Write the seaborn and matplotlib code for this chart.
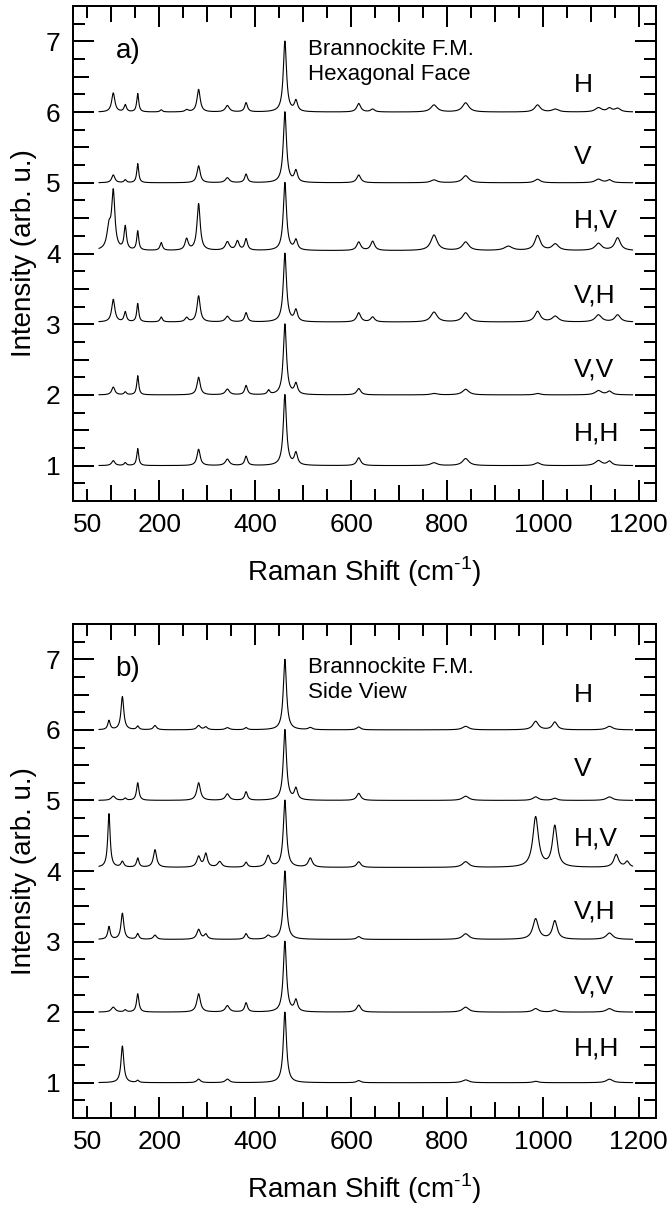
import numpy as np
import pandas as pd
import matplotlib
matplotlib.use("Agg")
import matplotlib.pyplot as plt
import seaborn as sns
from matplotlib.ticker import MultipleLocator, FixedLocator, FuncFormatter

# ---------------- data ----------------
POL_LABELS = ["H", "V", "H,V", "V,H", "V,V", "H,H"]
OFFSETS = [6, 5, 4, 3, 2, 1]
LABEL_Y_A = [6.39, 5.37, 4.46, 3.40, 2.36, 1.46]
LABEL_Y_B = [6.50, 5.45, 4.46, 3.43, 2.36, 1.48]

# Panel a) Hexagonal face: peak positions (cm-1), half widths, amplitudes per polarisation
A_POS = [95, 104, 129, 155, 204, 257, 282, 342, 363, 381, 428, 462, 485, 616, 645, 773, 839, 928, 989, 1026, 1116, 1139, 1156]
A_HWHM = [5, 4, 3, 2.5, 3, 4, 4, 5, 4, 3.5, 3, 4, 4, 5, 5, 8, 8, 10, 7, 8, 8, 6, 7]
A_H = [0, .27, .10, .26, .03, .03, .32, .09, 0, .13, 0, 1.0, .15, .12, .04, .10, .13, 0, .10, .04, .06, .05, .05]
A_V = [0, .11, .04, .27, 0, 0, .24, .07, 0, .12, 0, 1.0, .16, .11, 0, .04, .10, 0, .05, 0, .05, .04, 0]
A_HV = [.30, .80, .33, .27, .11, .16, .66, .12, .13, .16, 0, .96, .14, .12, .13, .22, .12, .06, .21, .09, .10, 0, .18]
A_VH = [0, .32, .14, .26, .07, .06, .37, .08, 0, .13, 0, .97, .16, .13, .07, .14, .13, 0, .15, .08, .10, 0, .10]
A_VV = [0, .11, .04, .27, 0, 0, .25, .08, 0, .13, .06, 1.0, .15, .09, 0, .02, .08, 0, .02, 0, .06, .05, 0]
A_HH = [0, .07, .04, .24, 0, 0, .23, .09, 0, .13, 0, 1.0, .17, .11, 0, .04, .10, 0, .04, 0, .07, .06, 0]
A_BASE = [0.0, 0.0, 0.04, 0.03, 0.0, 0.0]

# Panel b) Side view
B_POS = [95, 104, 123, 129, 155, 191, 282, 297, 326, 342, 381, 427, 462, 485, 515, 616, 839, 985, 1025, 1139, 1153, 1176]
B_HWHM = [3, 5, 3.5, 3, 3, 4, 4.5, 4, 5, 5, 3.5, 5, 4, 4, 5, 5, 8, 7, 6, 8, 6, 5]
B_H = [.13, 0, .47, 0, .05, .06, .06, .04, 0, .03, .03, 0, 1.0, 0, .03, .04, .05, .12, .11, .05, 0, 0]
B_V = [0, .06, 0, .03, .25, 0, .25, 0, 0, .09, .12, 0, 1.0, .16, 0, .10, .06, .05, .03, .05, 0, 0]
B_HV = [.76, 0, .08, 0, .13, .25, .15, .19, .08, 0, .07, .16, .95, 0, .13, .08, .08, .71, .58, 0, .18, .08]
B_VH = [.18, 0, .37, 0, .08, .06, .14, .07, 0, 0, .08, .05, .97, 0, 0, .04, .08, .29, .26, .09, 0, 0]
B_VV = [0, .07, 0, .03, .26, 0, .26, 0, 0, .09, .13, 0, 1.0, .16, 0, .10, .07, .05, .03, .05, 0, 0]
B_HH = [0, 0, .52, 0, .03, 0, .05, 0, 0, .05, 0, 0, 1.0, 0, 0, .03, .04, .02, 0, .05, 0, 0]
B_BASE = [0.0, 0.0, 0.05, 0.03, 0.0, 0.0]

X_START, X_END = 74, 1188
X_TICKS = [200, 400, 600, 800, 1000, 1200]

# ---------------- figure ----------------
sns.set_style("ticks")
plt.rcParams["font.family"] = ["Liberation Sans", "DejaVu Sans"]
plt.rcParams["mathtext.fontset"] = "custom"
plt.rcParams["mathtext.rm"] = "Liberation Sans"
for k in ("text.color", "axes.labelcolor", "xtick.color", "ytick.color", "axes.edgecolor"):
    plt.rcParams[k] = "black"

fig = plt.figure(figsize=(6.71, 12.11), dpi=100)
axa = fig.add_axes([0.1088, 0.5863, 0.8688, 0.4087])
axb = fig.add_axes([0.1088, 0.0768, 0.8688, 0.4079])

shift = np.arange(X_START, X_END, 0.5)


def build(pos, hwhm, amps_list, bases):
    frames = []
    for lab, off, amps, base in zip(POL_LABELS, OFFSETS, amps_list, bases):
        y = np.full_like(shift, off + base, dtype=float)
        for c, w, a in zip(pos, hwhm, amps):
            if a:
                y += a / (1 + ((shift - c) / w) ** 2)
        frames.append(pd.DataFrame({"shift": shift, "intensity": y, "pol": lab}))
    return pd.concat(frames, ignore_index=True)


df_a = build(A_POS, A_HWHM, [A_H, A_V, A_HV, A_VH, A_VV, A_HH], A_BASE)
df_b = build(B_POS, B_HWHM, [B_H, B_V, B_HV, B_VH, B_VV, B_HH], B_BASE)

LW = 1.44
MAJ, MED, MIN = 15, 11.5, 8.5
TICK_FS = 19


def style(ax, panel, title1, title2, label_y):
    ax.set_xlim(20, 1236)
    ax.set_ylim(0.5, 7.5)
    for s in ax.spines.values():
        s.set_linewidth(LW)
        s.set_color("black")
    ax.xaxis.set_major_locator(FixedLocator(X_TICKS))
    ax.xaxis.set_minor_locator(MultipleLocator(50))
    ax.xaxis.set_minor_formatter(FuncFormatter(lambda v, p: "50" if abs(v - 50) < 1 else ""))
    ax.yaxis.set_major_locator(MultipleLocator(1))
    ax.yaxis.set_minor_locator(MultipleLocator(0.25))
    ax.tick_params(which="both", direction="in", top=True, right=True, width=LW, color="black",
                   labelcolor="black", labelsize=TICK_FS, pad=9)
    ax.tick_params(which="major", length=MAJ)
    ax.tick_params(which="minor", length=MIN)
    # medium ticks
    for loc in ("bottom", "top"):
        sec = ax.secondary_xaxis(loc)
        sec.set_xticks([100, 300, 500, 700, 900, 1100])
        sec.tick_params(direction="in", length=MED, width=LW, color="black",
                        labelbottom=False, labeltop=False)
        sec.spines[loc].set_visible(False)
    for loc in ("left", "right"):
        sec = ax.secondary_yaxis(loc)
        sec.set_yticks([1.5, 2.5, 3.5, 4.5, 5.5, 6.5])
        sec.tick_params(direction="in", length=MED, width=LW, color="black",
                        labelleft=False, labelright=False)
        sec.spines[loc].set_visible(False)
    ax.set_xlabel(r"Raman Shift (cm$^{\text{-}1}$)", fontsize=20, labelpad=12, color="black")
    ax.set_ylabel("Intensity (arb. u.)", fontsize=20, labelpad=6, color="black")
    ax.text(109, 6.86, panel, fontsize=20, ha="left", va="center", color="black")
    ax.text(510, 6.88, title1, fontsize=16, ha="left", va="center", color="black")
    ax.text(510, 6.53, title2, fontsize=16, ha="left", va="center", color="black")
    for lab, yy in zip(POL_LABELS, label_y):
        ax.text(1065, yy, lab, fontsize=19, ha="left", va="center", color="black")


for ax, df in ((axa, df_a), (axb, df_b)):
    sns.lineplot(data=df, x="shift", y="intensity", units="pol", estimator=None, sort=False,
                 color="black", lw=0.8, ax=ax, legend=False)

style(axa, "a)", "Brannockite F.M.", "Hexagonal Face", LABEL_Y_A)
style(axb, "b)", "Brannockite F.M.", "Side View", LABEL_Y_B)

fig.savefig("out.png", dpi=100, facecolor="white")
